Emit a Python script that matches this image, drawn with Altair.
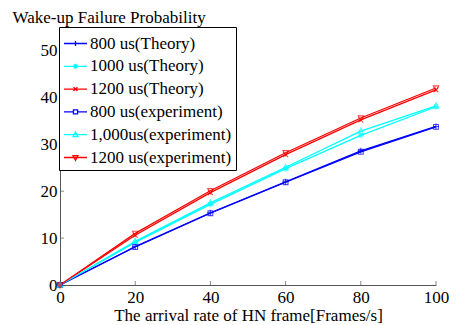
import altair as alt
import pandas as pd

x_vals = [0, 20, 40, 60, 80, 100]
series_names = ["800 us(Theory)", "1000 us(Theory)", "1200 us(Theory)",
                "800 us(experiment)", "1,000us(experiment)", "1200 us(experiment)"]
blue_theory = [0, 8.2, 15.4, 22.0, 28.6, 33.8]
cyan_theory = [0, 9.1, 17.2, 24.8, 31.9, 38.0]
red_theory = [0, 10.6, 19.7, 27.8, 35.2, 41.6]
blue_exp = [0, 8.1, 15.3, 21.9, 28.4, 33.7]
cyan_exp = [0, 9.3, 17.5, 25.1, 32.8, 38.2]
red_exp = [0, 11.0, 20.1, 28.2, 35.6, 42.0]
x_ticks = [0, 20, 40, 60, 80, 100]
y_ticks = [0, 10, 20, 30, 40, 50]

colors = ["#0000ff", "#00ffff", "#ff0000", "#0000ff", "#00ffff", "#ff0000"]
point_shapes = [
    "M-1,0H1M0,-1V1",
    "M-1,0H1M0,-1V1M-0.7,-0.7L0.7,0.7M-0.7,0.7L0.7,-0.7",
    "M-0.8,-0.8L0.8,0.8M-0.8,0.8L0.8,-0.8",
    "M-0.8,-0.8H0.8V0.8H-0.8Z",
    "M0,-1L0.9,0.7H-0.9Z",
    "M-0.9,-0.7H0.9L0,1Z",
]
legend_shapes = [
    "M-1,0H1M0,-0.22V0.22",
    "M-1,0H1M0,-0.22V0.22M-0.16,-0.16L0.16,0.16M-0.16,0.16L0.16,-0.16",
    "M-1,0H1M-0.17,-0.17L0.17,0.17M-0.17,0.17L0.17,-0.17",
    "M-1,0H-0.18M0.18,0H1M-0.18,-0.18H0.18V0.18H-0.18Z",
    "M-1,0H1M0,-0.24L0.21,0.16H-0.21Z",
    "M-1,0H1M-0.21,-0.16H0.21L0,0.24Z",
]

all_series = [blue_theory, cyan_theory, red_theory, blue_exp, cyan_exp, red_exp]
rows = []
for name, vals in zip(series_names, all_series):
    for xv, yv in zip(x_vals, vals):
        rows.append({"x": xv, "y": yv, "series": name})
df = pd.DataFrame(rows)

FONT = "Liberation Serif"
W, H = 376, 258

xs = alt.Scale(domain=[0, 100], nice=False, zero=False)
ys = alt.Scale(domain=[0, 55], nice=False)
stroke_scale = alt.Scale(domain=series_names, range=colors)

base = alt.Chart(df)

lines = base.mark_line(strokeWidth=1.3).encode(
    x=alt.X("x:Q", scale=xs,
            axis=alt.Axis(values=x_ticks, title="The arrival rate of HN frame[Frames/s]",
                          tickSize=0, labelPadding=4, grid=False,
                          titleBaseline="alphabetic", titleY=35.5,
                          domainColor="#555555", labelFlush=False)),
    y=alt.Y("y:Q", scale=ys,
            axis=alt.Axis(values=y_ticks, title="Wake-up Failure Probability",
                          titleAngle=0, titleAlign="left", titleBaseline="alphabetic",
                          titleX=-48, titleY=-5, tickSize=0, labelPadding=3, grid=False,
                          domainColor="#555555", labelFlush=False)),
    stroke=alt.Stroke("series:N", scale=stroke_scale, legend=None),
    detail="series:N",
)

points = base.mark_point(filled=False, size=36, strokeWidth=1.1).encode(
    x=alt.X("x:Q", scale=xs),
    y=alt.Y("y:Q", scale=ys),
    stroke=alt.Stroke("series:N", scale=stroke_scale, legend=None),
    shape=alt.Shape("series:N", scale=alt.Scale(domain=series_names, range=point_shapes), legend=None),
)

legend_props = dict(title=None, orient="none", legendX=-1, legendY=0,
                    strokeColor="black", fillColor="white", padding=4,
                    symbolSize=529, symbolStrokeWidth=1.3, symbolOpacity=1,
                    labelFont=FONT, labelFontSize=17, labelColor="black",
                    labelOffset=2, rowPadding=1.8, cornerRadius=0, labelLimit=400)

legend_layer = base.mark_point(filled=False, opacity=0).encode(
    x=alt.X("x:Q", scale=xs),
    y=alt.Y("y:Q", scale=ys),
    color=alt.Color("series:N", scale=alt.Scale(domain=series_names, range=colors),
                    legend=alt.Legend(**legend_props)),
    shape=alt.Shape("series:N", scale=alt.Scale(domain=series_names, range=legend_shapes),
                    legend=alt.Legend(**legend_props)),
)

xtick_df = pd.DataFrame({"v": x_ticks})
ytick_df = pd.DataFrame({"v": y_ticks})
xticks = alt.Chart(xtick_df).mark_tick(color="#555555", size=4, thickness=1).encode(
    x=alt.X("v:Q", scale=xs), y=alt.value(H - 2))
yticks = alt.Chart(ytick_df).mark_tick(color="#555555", size=4, thickness=1).encode(
    y=alt.Y("v:Q", scale=ys), x=alt.value(2))

chart = alt.layer(xticks, yticks, lines, legend_layer, points).resolve_scale(
    shape="independent", color="independent"
).properties(
    width=W, height=H,
    autosize=alt.AutoSizeParams(type="none"),
    padding={"left": 52, "top": 19, "right": 13, "bottom": 40},
).configure_view(stroke=None).configure_axis(
    labelFont=FONT, labelFontSize=17, labelColor="black",
    titleFont=FONT, titleFontSize=17, titleColor="black", titleFontWeight="normal",
).configure_legend(labelFont=FONT, labelFontSize=17, labelColor="black")

chart.save("out.html", embed_options={"renderer": "svg", "actions": False})
